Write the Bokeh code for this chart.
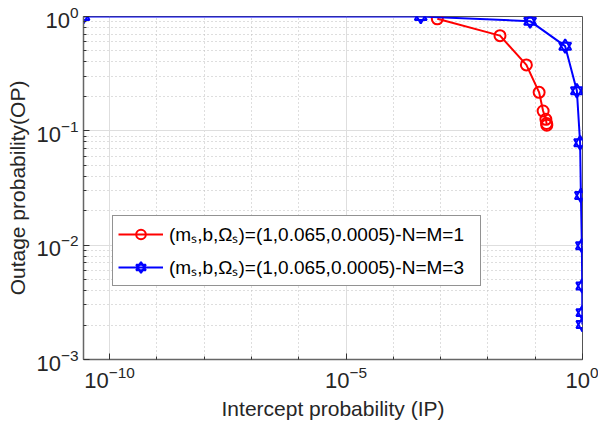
from bokeh.plotting import figure
from bokeh.models import FixedTicker, LogTickFormatter, Range1d, Legend, LegendItem
from bokeh.embed import file_html
from bokeh.resources import INLINE

# ---- data ----
red_x = [8.5e-4, 0.018, 0.065, 0.121, 0.147, 0.168, 0.174, 0.176]
red_y = [0.955, 0.68, 0.377, 0.217, 0.149, 0.126, 0.116, 0.112]

blue_x = [2.8e-11, 3.8e-4, 0.078, 0.43, 0.76, 0.89, 0.925, 0.97, 0.985, 0.99, 0.993]
blue_y = [1.0, 1.0, 0.91, 0.55, 0.224, 0.0786, 0.0272, 0.0099, 0.0044, 0.00257, 0.00202]

red_label = "(mₛ,b,Ωₛ)=(1,0.065,0.0005)-N=M=1"
blue_label = "(mₛ,b,Ωₛ)=(1,0.065,0.0005)-N=M=3"

x_major = [1e-10, 1e-5, 1.0]
x_minor = [10.0 ** k for k in range(-10, 1) if 10.0 ** k not in x_major]
y_major = [1e-3, 1e-2, 1e-1, 1.0]
y_minor = [m * 10.0 ** k for k in range(-3, 0) for m in range(2, 10)]

FONT = "Liberation Sans"

p = figure(width=598, height=436, x_axis_type="log", y_axis_type="log",
           x_range=Range1d(min(blue_x), 1.0), y_range=Range1d(1e-3, 1.0),
           output_backend="svg", toolbar_location=None,
           min_border_left=83, min_border_right=16, min_border_top=16, min_border_bottom=77)

p.background_fill_color = "white"
p.outline_line_color = "#555555"
p.outline_line_width = 1

p.xaxis.ticker = FixedTicker(ticks=x_major, minor_ticks=x_minor)
p.yaxis.ticker = FixedTicker(ticks=y_major, minor_ticks=y_minor)
p.xaxis.formatter = LogTickFormatter()
p.yaxis.formatter = LogTickFormatter()

for ax in (p.xaxis, p.yaxis):
    ax.axis_line_color = "#666666"
    ax.axis_line_width = 1.5
    ax.major_tick_in = 6
    ax.major_tick_out = 0
    ax.minor_tick_in = 3
    ax.minor_tick_out = 0
    ax.major_tick_line_color = "#333333"
    ax.minor_tick_line_color = "#333333"
    ax.major_label_text_font = FONT
    ax.major_label_text_font_size = "22px"
    ax.major_label_text_color = "#262626"
    ax.axis_label_text_font = FONT
    ax.axis_label_text_font_size = "21px"
    ax.axis_label_text_font_style = "normal"
    ax.axis_label_text_color = "#262626"

p.xaxis.axis_label = "Intercept probability (IP)"
p.yaxis.axis_label = "Outage probability(OP)"
p.xaxis.major_label_standoff = 6
p.xaxis.axis_label_standoff = 6
p.yaxis.major_label_standoff = 5
p.yaxis.axis_label_standoff = 4

for g in (p.xgrid, p.ygrid):
    g.grid_line_color = "#dedede"
    g.grid_line_width = 1
    g.minor_grid_line_color = "#bdbdbd"
    g.minor_grid_line_dash = "1 3"
    g.minor_grid_line_width = 1

r_line = p.line(red_x, red_y, line_color="red", line_width=2)
r_mark = p.scatter(red_x, red_y, marker="circle", size=11, fill_color=None,
                   line_color="red", line_width=2)

b_line = p.line(blue_x, blue_y, line_color="blue", line_width=2)
b_tri = p.scatter(blue_x, blue_y, marker="triangle", size=12, fill_color=None,
                  line_color="blue", line_width=2)
b_inv = p.scatter(blue_x, blue_y, marker="inverted_triangle", size=12, fill_color=None,
                  line_color="blue", line_width=2)

legend = Legend(items=[
    LegendItem(label=red_label, renderers=[r_line, r_mark]),
    LegendItem(label=blue_label, renderers=[b_line, b_tri, b_inv]),
], location=(29, 73))
legend.border_line_color = "#262626"
legend.border_line_width = 1
legend.background_fill_color = "white"
legend.background_fill_alpha = 1
legend.padding = 5
legend.spacing = 7
legend.margin = 0
legend.glyph_width = 45
legend.glyph_height = 24
legend.label_height = 24
legend.label_standoff = 6
legend.label_width = 306
legend.label_text_font = FONT
legend.label_text_font_size = "19px"
legend.label_text_color = "black"
p.add_layout(legend)

open("out.html", "w").write(file_html(p, INLINE))
